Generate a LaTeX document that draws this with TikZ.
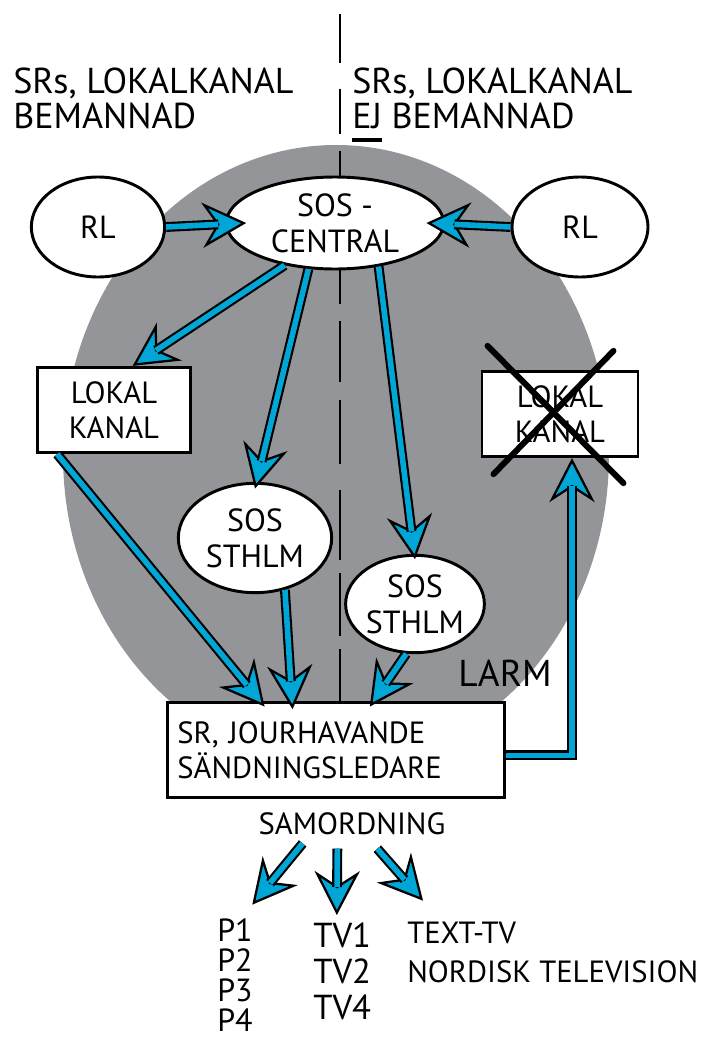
\documentclass[tikz,border=0pt]{standalone}
\usepackage{fontspec}
\setmainfont{PT Sans}
\usetikzlibrary{shapes.geometric, arrows.meta}
\definecolor{discgray}{RGB}{147,149,152}
\definecolor{feedblue}{RGB}{0,166,214}
\newcommand{\undl}[1]{\setbox0\hbox{#1}\rlap{\rule[-10pt]{\wd0}{2.6pt}}\box0\relax}
\newcommand{\feed}[1]{\draw[feedhead] #1; \draw[feedshaft] #1;}

\begin{document}
\begin{tikzpicture}[
    x=0.75pt, y=-0.75pt,
    bubble/.style={ellipse, draw, line width=2.2pt, fill=white, inner sep=0pt, align=center, font=\fontsize{24}{27}\selectfont},
    box/.style={rectangle, draw, line width=2.2pt, fill=white, inner sep=0pt, align=center, font=\fontsize{23}{26}\selectfont},
    freetext/.style={inner sep=0pt, align=left, anchor=north west},
    feedshaft/.style={draw=black, line width=1.6pt, double=feedblue, double distance=4.2pt, shorten >=21pt},
    feedhead/.style={line width=0.4pt, -{Stealth[length=33pt, width=34pt, inset=11pt, line width=1.7pt, fill=feedblue]}},
    divider/.style={line width=1.4pt},
    cross/.style={line width=4.5pt, line cap=round}
]
\useasboundingbox (0,0) rectangle (724,1043);

% Headings
\node[freetext, font=\fontsize{27}{26}\selectfont] (headL) at (13,68) {SRs, LOKALKANAL\\BEMANNAD};
\node[freetext, font=\fontsize{27}{26}\selectfont] (headR) at (352,68) {SRs, LOKALKANAL\\\undl{EJ} BEMANNAD};

% Gray area
\fill[discgray] (336,455) ellipse [x radius=273, y radius=310];

% Top row
\node[bubble, minimum width=100pt, minimum height=75pt] (rlL) at (98,227) {RL};
\node[bubble, minimum width=163pt, minimum height=69pt] (central) at (335,223) {SOS -\\CENTRAL};
\node[bubble, minimum width=102pt, minimum height=75pt] (rlR) at (580,227) {RL};

% Lokal kanal boxes
\node[box, minimum width=115pt, minimum height=64pt] (lokal) at (114,410) {LOKAL\\KANAL};
\node[box, minimum width=117pt, minimum height=64pt] (lokalX) at (560,414) {LOKAL\\KANAL};

% SOS Sthlm
\node[bubble, minimum width=115pt, minimum height=82pt] (sthlmA) at (255,538) {SOS\\STHLM};
\node[bubble, minimum width=103pt, minimum height=73pt] (sthlmB) at (415,604) {SOS\\STHLM};

% Jourhavande
\node[box, minimum width=253pt, minimum height=71pt, align=left, text width=238pt] (jour) at (336,750) {SR, JOURHAVANDE\\SÄNDNINGSLEDARE};

% Divider
\coordinate (top) at (340,14);
\draw[divider, dash pattern=on 37pt off 19pt on 34pt off 13pt on 40pt off 0pt] (top) -- (top |- central.north);
\draw[divider, dash pattern=on 25pt off 13pt on 46pt off 13pt on 48pt off 20pt on 52pt off 10pt on 47pt off 10pt on 45pt off 0pt] (top |- central.south) -- (top |- jour.north);

% Crossed out
\draw[cross] ([shift={(7,-24)}]lokalX.north west) -- ([shift={(-16,25)}]lokalX.south east);
\draw[cross] ([shift={(-26,-19)}]lokalX.north east) -- ([shift={(13,16)}]lokalX.south west);

% Flows
\feed{(rlL.east) -- ([xshift=16pt]central.west)}
\feed{(rlR.west) -- ([xshift=-14pt]central.east)}
\feed{(central.220) -- ([xshift=14pt]lokal.north)}
\feed{(central.240) -- ([yshift=-5pt]sthlmA.north)}
\feed{(central.315) -- ([yshift=-4pt]sthlmB.north)}
\feed{([xshift=16pt]lokal.south west) -- ([xshift=74pt, yshift=-4pt]jour.north west)}
\feed{(sthlmA.300) -- ([xshift=95pt, yshift=-6pt]jour.north west)}
\feed{(sthlmB.260) -- ([xshift=153pt, yshift=-4pt]jour.north west)}

% Larm
\node[inner sep=0pt, font=\fontsize{28}{28}\selectfont] (larm) at (505,673) {LARM};
\feed{([yshift=-4pt]jour.east) -| ([xshift=9pt]lokalX.south)}

% Samordning
\node[inner sep=0pt, font=\fontsize{23}{26}\selectfont] (samo) at (352,824) {SAMORDNING};
\node[freetext, font=\fontsize{24}{22.5}\selectfont] (plist) at (217,918) {P1\\P2\\P3\\P4};
\node[freetext, font=\fontsize{26}{27}\selectfont] (tvlist) at (313,923) {TV1\\TV2\\TV4};
\node[freetext, font=\fontsize{23}{29}\selectfont] (channels) at (407,922) {TEXT-TV\\NORDISK TELEVISION};

\feed{([xshift=-37pt, yshift=-6pt]samo.south) -- ([xshift=13pt, yshift=10pt]plist.north)}
\feed{([xshift=-11pt, yshift=-10pt]samo.south) -- ([xshift=-4pt, yshift=6pt]tvlist.north)}
\feed{([xshift=19pt, yshift=-10pt]samo.south) -- ([xshift=12pt, yshift=16pt]channels.north west)}

\end{tikzpicture}
\end{document}
